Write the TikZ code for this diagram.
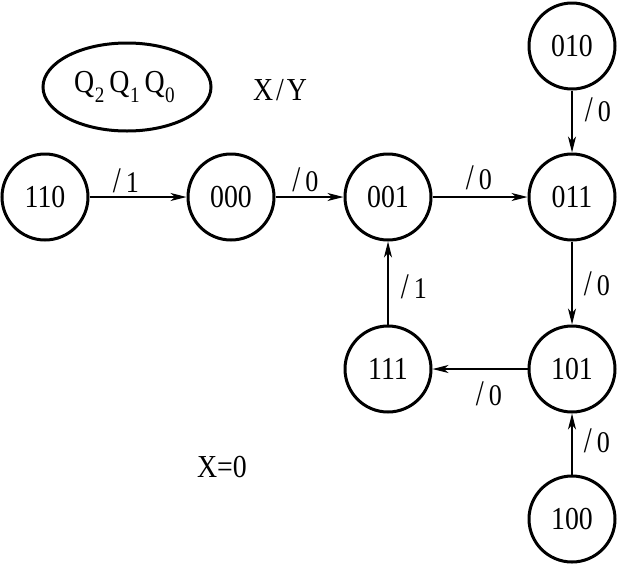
\documentclass[tikz,border=0pt]{standalone}
\usepackage{fontspec}
\usepackage{graphicx}
\setmainfont{Liberation Serif}[FakeStretch=0.87]
\usetikzlibrary{arrows.meta,shapes.geometric}
\newcommand{\bigsl}{\scalebox{1.1}[1.2]{/}}
\newcommand{\lb}[1]{\bigsl\hspace{5pt}#1}
\newcommand{\qs}[1]{\hspace{0.5pt}\raisebox{-0.32em}{\fontsize{22}{24}\selectfont #1}\hspace{5pt}}
\begin{document}
\begin{tikzpicture}[x=1pt,y=-1pt,
  state/.style={draw,circle,line width=3pt,minimum size=86pt,inner sep=0pt,font=\fontsize{32}{36}\selectfont},
  edge/.style={line width=1.3pt,-{Stealth[length=16pt,width=8pt,inset=4.5pt]}},
  lab/.style={font=\fontsize{30}{34}\selectfont,inner sep=0pt},
  txt/.style={font=\fontsize{32}{36}\selectfont}]
\useasboundingbox (0,0) rectangle (618,563);
\node[state] (s110) at (45,197) {110};
\node[state] (s000) at (231,197) {000};
\node[state] (s001) at (388,197) {001};
\node[state] (s011) at (572,197) {011};
\node[state] (s010) at (572,46) {010};
\node[state] (s101) at (572,369) {101};
\node[state] (s111) at (388,369) {111};
\node[state] (s100) at (572,519) {100};
\node[draw,ellipse,line width=3pt,minimum width=168pt,minimum height=88pt,inner sep=0pt,txt] (key) at (127,87)
  {Q\qs{2}Q\qs{1}Q\qs{0}\hspace{-5pt}};
\node[txt] (xy) at (280,90) {X\hspace{3pt}/\hspace{3pt}Y};
\node[txt] (x0) at (222,467) {X=0};
\draw[edge] (s110) -- node[lab,xshift=-12pt,yshift=16pt] {\lb{1}} (s000);
\draw[edge] (s000) -- node[lab,xshift=-4pt,yshift=17pt] {\lb{0}} (s001);
\draw[edge] (s001) -- node[lab,xshift=-1pt,yshift=19pt] {\lb{0}} (s011);
\draw[edge] (s010) -- node[lab,xshift=26pt,yshift=12pt] {\lb{0}} (s011);
\draw[edge] (s011) -- node[lab,xshift=25pt,yshift=-1pt] {\lb{0}} (s101);
\draw[edge] (s101) -- node[lab,xshift=9pt,yshift=-25pt] {\lb{0}} (s111);
\draw[edge] (s111) -- node[lab,xshift=26pt,yshift=-4pt] {\lb{1}} (s001);
\draw[edge] (s100) -- node[lab,xshift=25pt,yshift=3pt] {\lb{0}} (s101);
\end{tikzpicture}
\end{document}
